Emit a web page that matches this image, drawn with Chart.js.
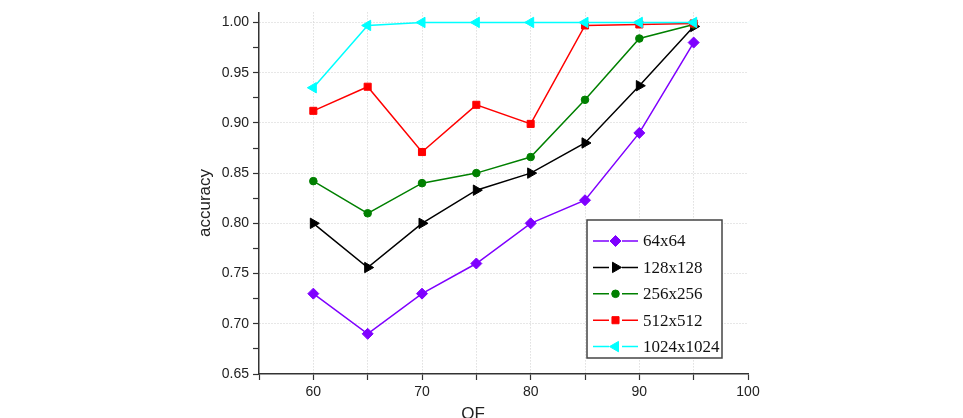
<!DOCTYPE html>
<html><head><meta charset="utf-8">
<script src="https://cdn.jsdelivr.net/npm/chart.js@4/dist/chart.umd.min.js"></script>
<style>html,body{margin:0;padding:0;background:#fff}#wrap{width:963px;height:418px}</style>
</head><body><div id="wrap"><canvas id="c" width="963" height="418"></canvas></div>
<script>
const qf = [60, 65, 70, 75, 80, 85, 90, 95];
const acc64 = [0.730, 0.690, 0.730, 0.760, 0.800, 0.823, 0.890, 0.980];
const acc128 = [0.800, 0.756, 0.800, 0.833, 0.850, 0.880, 0.937, 0.996];
const acc256 = [0.842, 0.810, 0.840, 0.850, 0.866, 0.923, 0.984, 0.998];
const acc512 = [0.912, 0.936, 0.871, 0.918, 0.899, 0.997, 0.998, 0.999];
const acc1024 = [0.935, 0.997, 1.000, 1.000, 1.000, 1.000, 1.000, 1.000];
const seriesLabels = ['64x64', '128x128', '256x256', '512x512', '1024x1024'];
const xTicks = [55, 60, 65, 70, 75, 80, 85, 90, 95, 100];
const xLabelTicks = [60, 70, 80, 90, 100];
const yTicks = [0.65, 0.675, 0.70, 0.725, 0.75, 0.775, 0.80, 0.825, 0.85, 0.875, 0.90, 0.925, 0.95, 0.975, 1.00];
const yLabelTicks = [0.65, 0.70, 0.75, 0.80, 0.85, 0.90, 0.95, 1.00];
const xTitle = 'QF';
const yTitle = 'accuracy';

const near = (a, b) => Math.abs(a - b) < 1e-6;
const isLabelY = v => yLabelTicks.some(t => near(t, v));
const isLabelX = v => xLabelTicks.some(t => near(t, v));
const pts = arr => qf.map((q, i) => ({x: q, y: arr[i]}));

const styles = [
  {color: '#7f00ff', pointStyle: 'rectRot', radius: 5.5, rotation: 0},
  {color: '#000000', pointStyle: 'triangle', radius: 6, rotation: 90},
  {color: '#008000', pointStyle: 'circle', radius: 3.8, rotation: 0},
  {color: '#ff0000', pointStyle: 'rect', radius: 5, rotation: 0},
  {color: '#00ffff', pointStyle: 'triangle', radius: 6, rotation: -90}
];
const seriesData = [acc64, acc128, acc256, acc512, acc1024];
const orders = [5, 4, 3, 2, 1];

const datasets = seriesData.map((d, i) => ({
  label: seriesLabels[i],
  data: pts(d),
  borderColor: styles[i].color,
  backgroundColor: styles[i].color,
  pointBackgroundColor: styles[i].color,
  pointBorderColor: styles[i].color,
  pointStyle: styles[i].pointStyle,
  pointRadius: styles[i].radius,
  pointRotation: styles[i].rotation,
  pointBorderWidth: 1,
  borderWidth: 1.5,
  tension: 0,
  order: orders[i]
}));

function drawMarker(ctx, st, x, y) {
  ctx.fillStyle = st.color; ctx.strokeStyle = st.color; ctx.lineWidth = 1;
  if (window.Chart && Chart.helpers && Chart.helpers.drawPoint) {
    Chart.helpers.drawPoint(ctx, {pointStyle: st.pointStyle, rotation: st.rotation, radius: st.radius, borderWidth: 1}, x, y);
    return;
  }
  ctx.beginPath(); ctx.arc(x, y, st.radius, 0, Math.PI * 2); ctx.fill();
}

const overlay = {
  id: 'overlay',
  afterDraw(chart) {
    const ctx = chart.ctx;
    ctx.save();
    // axis titles
    ctx.fillStyle = '#222';
    ctx.font = '17px "Liberation Sans", Arial, sans-serif';
    ctx.textAlign = 'center'; ctx.textBaseline = 'middle';
    ctx.fillText(xTitle, 473, 414);
    ctx.save();
    ctx.translate(205, 203); ctx.rotate(-Math.PI / 2);
    ctx.fillText(yTitle, 0, 0);
    ctx.restore();
    // legend
    const bx = 587, by = 220, bw = 135, bh = 138;
    ctx.fillStyle = '#fff';
    ctx.fillRect(bx, by, bw, bh);
    ctx.strokeStyle = '#444'; ctx.lineWidth = 1.5;
    ctx.strokeRect(bx, by, bw, bh);
    ctx.font = '17px "Liberation Serif", "Times New Roman", serif';
    ctx.textAlign = 'left'; ctx.textBaseline = 'middle';
    chart.data.datasets.forEach((ds, i) => {
      const y = 241 + i * 26.4;
      const st = styles[i];
      ctx.strokeStyle = st.color; ctx.lineWidth = 1.5;
      ctx.beginPath();
      ctx.moveTo(593, y); ctx.lineTo(609, y);
      ctx.moveTo(622, y); ctx.lineTo(638, y);
      ctx.stroke();
      drawMarker(ctx, st, 615.5, y);
      ctx.fillStyle = '#111';
      ctx.fillText(ds.label, 643, y + 1);
    });
    ctx.restore();
  }
};

new Chart(document.getElementById('c'), {
  type: 'line',
  data: {datasets},
  options: {
    responsive: false,
    animation: false,
    devicePixelRatio: 1,
    layout: {padding: {left: 0, right: 215, top: 10, bottom: 0}},
    plugins: {legend: {display: false}, tooltip: {enabled: false}},
    scales: {
      x: {
        type: 'linear', min: 55, max: 100,
        afterBuildTicks: s => { s.ticks = xTicks.map(v => ({value: v})); },
        afterFit: s => { s.height = 44; },
        ticks: {
          autoSkip: false, maxRotation: 0, padding: 4,
          color: '#222', font: {family: '"Liberation Sans", Arial, sans-serif', size: 14},
          callback: v => isLabelX(v) ? String(v) : ''
        },
        grid: {
          color: c => (c.tick && c.tick.value > 55.5 && c.tick.value < 99.5) ? '#cfcfcf' : 'rgba(0,0,0,0)',
          lineWidth: 1, tickColor: '#333', tickLength: 6, tickWidth: 1.2
        },
        border: {display: true, color: '#333', width: 1.5, dash: [1, 2]}
      },
      y: {
        type: 'linear', min: 0.65, max: 1.01,
        afterBuildTicks: s => { s.ticks = yTicks.map(v => ({value: v})); },
        afterFit: s => { s.width = 259; },
        ticks: {
          autoSkip: false, padding: 4,
          color: '#222', font: {family: '"Liberation Sans", Arial, sans-serif', size: 14},
          callback: v => isLabelY(v) ? v.toFixed(2) : ''
        },
        grid: {
          color: c => (c.tick && isLabelY(c.tick.value) && c.tick.value > 0.66) ? '#cfcfcf' : 'rgba(0,0,0,0)',
          lineWidth: 1, tickColor: '#333', tickLength: 6, tickWidth: 1.2
        },
        border: {display: true, color: '#333', width: 1.5, dash: [1, 2]}
      }
    }
  },
  plugins: [overlay]
});
</script></body></html>
